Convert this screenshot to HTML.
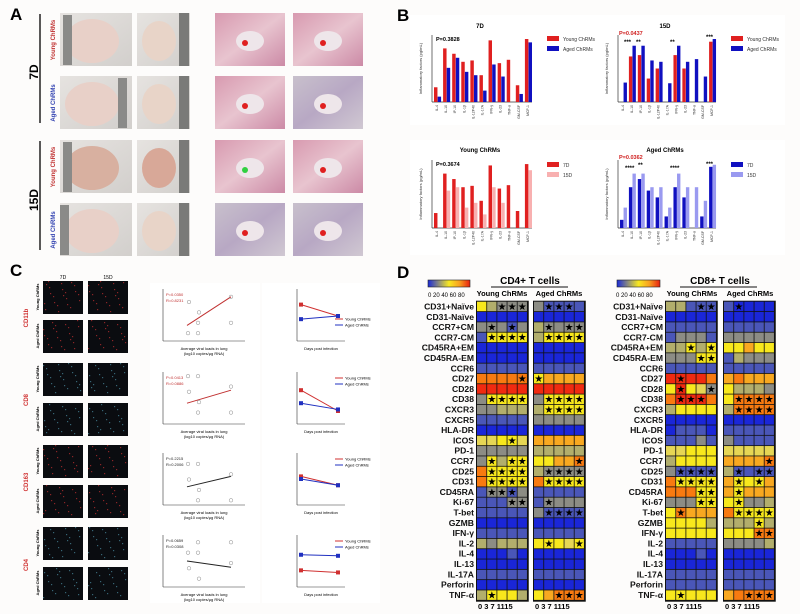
<!DOCTYPE html>
<html><head><meta charset="utf-8">
<style>
html,body{margin:0;padding:0;background:#fdfcfb;}
body{width:800px;height:614px;position:relative;overflow:hidden;font-family:"Liberation Sans",Arial,sans-serif;}
svg{position:absolute;left:0;top:0;}
text{font-family:"Liberation Sans",Arial,sans-serif;}
.lbl{font-weight:bold;font-size:8.6px;fill:#111;text-anchor:end;}
</style></head><body>
<svg id="s" width="800" height="614" viewBox="0 0 800 614" xmlns="http://www.w3.org/2000/svg">
<defs>
<linearGradient id="lung" x1="0" y1="0" x2="1" y2="1"><stop offset="0" stop-color="#e6e3e0"/><stop offset="1" stop-color="#d2cfcc"/></linearGradient>
<linearGradient id="he" x1="0" y1="0" x2="1" y2="1"><stop offset="0" stop-color="#d89ab0"/><stop offset="0.5" stop-color="#e8c4cf"/><stop offset="1" stop-color="#cc8aa6"/></linearGradient>
<linearGradient id="he2" x1="0" y1="0" x2="1" y2="1"><stop offset="0" stop-color="#c8c0cc"/><stop offset="0.5" stop-color="#b8a8c4"/><stop offset="1" stop-color="#d0c8d2"/></linearGradient>
<linearGradient id="cb" x1="0" x2="1"><stop offset="0" stop-color="#1a2ad8"/><stop offset="0.25" stop-color="#8a8a80"/><stop offset="0.5" stop-color="#f8e820"/><stop offset="0.75" stop-color="#f8a020"/><stop offset="1" stop-color="#e82010"/></linearGradient>
</defs>
<text x="10" y="20" font-size="17" font-weight="bold">A</text>
<text x="397" y="21" font-size="17" font-weight="bold">B</text>
<text x="10" y="276" font-size="17" font-weight="bold">C</text>
<text x="397" y="278" font-size="17" font-weight="bold">D</text>

<line x1="40" y1="14" x2="40" y2="123" stroke="#222" stroke-width="1.5"/>
<line x1="40" y1="141" x2="40" y2="250" stroke="#222" stroke-width="1.5"/>
<text transform="translate(38,72) rotate(-90)" font-size="12" font-weight="bold" text-anchor="middle">7D</text>
<text transform="translate(38,200) rotate(-90)" font-size="12" font-weight="bold" text-anchor="middle">15D</text>
<text transform="translate(55,40) rotate(-90)" font-size="6" font-weight="bold" fill="#c03030" text-anchor="middle">Young ChRMs</text>
<text transform="translate(55,103) rotate(-90)" font-size="6" font-weight="bold" fill="#3040b0" text-anchor="middle">Aged ChRMs</text>
<text transform="translate(55,167) rotate(-90)" font-size="6" font-weight="bold" fill="#c03030" text-anchor="middle">Young ChRMs</text>
<text transform="translate(55,230) rotate(-90)" font-size="6" font-weight="bold" fill="#3040b0" text-anchor="middle">Aged ChRMs</text>
<g id="pa"></g>

<rect x="410" y="15" width="375" height="110" fill="#fff"/>
<rect x="410" y="140" width="375" height="115" fill="#fff"/>
<text x="480" y="28" font-size="6" font-weight="bold" text-anchor="middle">7D</text>
<text x="665" y="28" font-size="6" font-weight="bold" text-anchor="middle">15D</text>
<text x="480" y="152" font-size="6" font-weight="bold" text-anchor="middle">Young ChRMs</text>
<text x="665" y="152" font-size="6" font-weight="bold" text-anchor="middle">Aged ChRMs</text>
<text x="436" y="41" font-size="5.5" font-weight="bold">P=0.3828</text>
<text x="619" y="35" font-size="5.5" font-weight="bold" fill="#d02020">P=0.0437</text>
<text x="436" y="166" font-size="5.5" font-weight="bold">P=0.3674</text>
<text x="619" y="159" font-size="5.5" font-weight="bold" fill="#d02020">P=0.0362</text>
<g font-size="6" font-weight="bold">
<text x="624" y="44">***</text><text x="636" y="44">**</text><text x="670" y="44">**</text><text x="706" y="39">***</text>
<text x="625" y="170">****</text><text x="638" y="167">**</text><text x="670" y="170">****</text><text x="706" y="166">***</text>
</g>
<g id="pb"></g>
<g font-size="5" fill="#333">
<rect x="547" y="36" width="12" height="5" fill="#e02020"/><text x="563" y="41">Young ChRMs</text>
<rect x="547" y="46" width="12" height="5" fill="#1010c0"/><text x="563" y="51">Aged ChRMs</text>
<rect x="731" y="36" width="12" height="5" fill="#e02020"/><text x="747" y="41">Young ChRMs</text>
<rect x="731" y="46" width="12" height="5" fill="#1010c0"/><text x="747" y="51">Aged ChRMs</text>
<rect x="547" y="162" width="12" height="5" fill="#e02020"/><text x="563" y="167">7D</text>
<rect x="547" y="172" width="12" height="5" fill="#f8b0b0"/><text x="563" y="177">15D</text>
<rect x="731" y="162" width="12" height="5" fill="#1010c0"/><text x="747" y="167">7D</text>
<rect x="731" y="172" width="12" height="5" fill="#9a9af0"/><text x="747" y="177">15D</text>
</g>

<rect x="150" y="283" width="110" height="320" fill="#fff"/>
<rect x="262" y="283" width="118" height="320" fill="#fff"/>
<text x="63" y="279" font-size="5" text-anchor="middle">7D</text>
<text x="108" y="279" font-size="5" text-anchor="middle">15D</text>
<text transform="translate(28,318) rotate(-90)" font-size="6" font-weight="bold" fill="#d03030" text-anchor="middle">CD11b</text>
<text transform="translate(28,400) rotate(-90)" font-size="6" font-weight="bold" fill="#d03030" text-anchor="middle">CD8</text>
<text transform="translate(28,482) rotate(-90)" font-size="6" font-weight="bold" fill="#d03030" text-anchor="middle">CD163</text>
<text transform="translate(28,565) rotate(-90)" font-size="6" font-weight="bold" fill="#d03030" text-anchor="middle">CD4</text>
<g id="pc"></g>

<rect x="428" y="280" width="42" height="7" fill="url(#cb)" stroke="#222" stroke-width="0.6"/>
<text x="428" y="297" font-size="6">0 20 40 60 80</text>
<rect x="617" y="280" width="43" height="7" fill="url(#cb)" stroke="#222" stroke-width="0.6"/>
<text x="616" y="297" font-size="6">0 20 40 60 80</text>
<text x="530" y="284" font-size="10" font-weight="bold" text-anchor="middle">CD4+ T cells</text>
<line x1="491" y1="287" x2="568" y2="287" stroke="#111" stroke-width="1"/>
<text x="720" y="284" font-size="10" font-weight="bold" text-anchor="middle">CD8+ T cells</text>
<line x1="680" y1="287" x2="757" y2="287" stroke="#111" stroke-width="1"/>
<text x="502" y="296" font-size="7.5" font-weight="bold" text-anchor="middle">Young ChRMs</text>
<text x="559" y="296" font-size="7.5" font-weight="bold" text-anchor="middle">Aged ChRMs</text>
<text x="692" y="296" font-size="7.5" font-weight="bold" text-anchor="middle">Young ChRMs</text>
<text x="750" y="296" font-size="7.5" font-weight="bold" text-anchor="middle">Aged ChRMs</text>
<g>
<text x="474" y="309.5" class="lbl">CD31+Naïve</text><text x="474" y="319.8" class="lbl">CD31-Naïve</text><text x="474" y="330.1" class="lbl">CCR7+CM</text><text x="474" y="340.4" class="lbl">CCR7-CM</text><text x="474" y="350.7" class="lbl">CD45RA+EM</text><text x="474" y="361" class="lbl">CD45RA-EM</text><text x="474" y="371.3" class="lbl">CCR6</text><text x="474" y="381.6" class="lbl">CD27</text><text x="474" y="391.9" class="lbl">CD28</text><text x="474" y="402.2" class="lbl">CD38</text><text x="474" y="412.5" class="lbl">CXCR3</text><text x="474" y="422.8" class="lbl">CXCR5</text><text x="474" y="433.1" class="lbl">HLA-DR</text><text x="474" y="443.4" class="lbl">ICOS</text><text x="474" y="453.7" class="lbl">PD-1</text><text x="474" y="464" class="lbl">CCR7</text><text x="474" y="474.3" class="lbl">CD25</text><text x="474" y="484.6" class="lbl">CD31</text><text x="474" y="494.9" class="lbl">CD45RA</text><text x="474" y="505.2" class="lbl">Ki-67</text><text x="474" y="515.5" class="lbl">T-bet</text><text x="474" y="525.8" class="lbl">GZMB</text><text x="474" y="536.1" class="lbl">IFN-γ</text><text x="474" y="546.4" class="lbl">IL-2</text><text x="474" y="556.7" class="lbl">IL-4</text><text x="474" y="567" class="lbl">IL-13</text><text x="474" y="577.3" class="lbl">IL-17A</text><text x="474" y="587.6" class="lbl">Perforin</text><text x="474" y="597.9" class="lbl">TNF-α</text>
</g>
<g>
<text x="663" y="309.5" class="lbl">CD31+Naïve</text><text x="663" y="319.8" class="lbl">CD31-Naïve</text><text x="663" y="330.1" class="lbl">CCR7+CM</text><text x="663" y="340.4" class="lbl">CCR7-CM</text><text x="663" y="350.7" class="lbl">CD45RA+EM</text><text x="663" y="361" class="lbl">CD45RA-EM</text><text x="663" y="371.3" class="lbl">CCR6</text><text x="663" y="381.6" class="lbl">CD27</text><text x="663" y="391.9" class="lbl">CD28</text><text x="663" y="402.2" class="lbl">CD38</text><text x="663" y="412.5" class="lbl">CXCR3</text><text x="663" y="422.8" class="lbl">CXCR5</text><text x="663" y="433.1" class="lbl">HLA-DR</text><text x="663" y="443.4" class="lbl">ICOS</text><text x="663" y="453.7" class="lbl">PD-1</text><text x="663" y="464" class="lbl">CCR7</text><text x="663" y="474.3" class="lbl">CD25</text><text x="663" y="484.6" class="lbl">CD31</text><text x="663" y="494.9" class="lbl">CD45RA</text><text x="663" y="505.2" class="lbl">Ki-67</text><text x="663" y="515.5" class="lbl">T-bet</text><text x="663" y="525.8" class="lbl">GZMB</text><text x="663" y="536.1" class="lbl">IFN-γ</text><text x="663" y="546.4" class="lbl">IL-2</text><text x="663" y="556.7" class="lbl">IL-4</text><text x="663" y="567" class="lbl">IL-13</text><text x="663" y="577.3" class="lbl">IL-17A</text><text x="663" y="587.6" class="lbl">Perforin</text><text x="663" y="597.9" class="lbl">TNF-α</text>
</g>
<g font-size="7.5" font-weight="bold">
<text x="478" y="609">0  3  7 1115</text><text x="535" y="609">0  3  7 1115</text>
<text x="667" y="609">0  3  7 1115</text><text x="725" y="609">0  3  7 1115</text>
</g>
<g id="pd"></g>
</svg>
<script>
var NS="http://www.w3.org/2000/svg";
function el(p,t,a){var e=document.createElementNS(NS,t);for(var k in a)e.setAttribute(k,a[k]);p.appendChild(e);return e;}
var pa=document.getElementById('pa');
var cols=[[60,72],[137,53],[215,70],[293,70]],rows=[13,76,140,203];
rows.forEach(function(y,ri){cols.forEach(function(c,ci){
 var f=ci<2?'url(#lung)':(ci==2?(ri==3?'url(#he2)':'url(#he)'):(ri%2?'url(#he2)':'url(#he)'));
 el(pa,'rect',{x:c[0],y:y,width:c[1],height:53,fill:f});
 if(ci==0){el(pa,'ellipse',{cx:c[0]+32,cy:y+28,rx:27,ry:22,fill:ri==2?'#d8b0a0':'#e8d0c8'});el(pa,'rect',{x:c[0]+(ri==1?58:(ri==3?0:3)),y:y+2,width:9,height:50,fill:'#8a8a88'});}
 if(ci==1){el(pa,'ellipse',{cx:c[0]+22,cy:y+28,rx:17,ry:20,fill:ri==2?'#d8a898':'#e8d4c8'});el(pa,'rect',{x:c[0]+42,y:y,width:10,height:53,fill:'#7a7a78'});}
 if(ci>=2){el(pa,'ellipse',{cx:c[0]+35,cy:y+28,rx:14,ry:10,fill:'#eee6ea'});el(pa,'circle',{cx:c[0]+30,cy:y+30,r:3,fill:ri==2&&ci==2?'#30d040':'#e02020'});}
});});
var pb=document.getElementById('pb');
function chart(x0,y0,w,h,a,b,ca,cb){
 el(pb,'line',{x1:x0,y1:y0,x2:x0,y2:y0+h,stroke:'#333','stroke-width':0.7});
 el(pb,'line',{x1:x0,y1:y0+h,x2:x0+w,y2:y0+h,stroke:'#333','stroke-width':0.7});
 var bw=w/11;
 for(var i=0;i<11;i++){var bx=x0+2+i*bw;
  if(a[i])el(pb,'rect',{x:bx,y:y0+h-a[i]*h,width:bw*0.38,height:a[i]*h,fill:ca});
  if(b[i])el(pb,'rect',{x:bx+bw*0.4,y:y0+h-b[i]*h,width:bw*0.38,height:b[i]*h,fill:cb});
  var t=el(pb,'text',{'font-size':3.5,fill:'#333',transform:'translate('+(bx+4)+','+(y0+h+3)+') rotate(-90)','text-anchor':'end'});t.textContent=['IL-4','IL-10','IP-10','IL-1\u03b2','IL-12P40','IL-17A','IFN-\u03b3','IL-23','TNF-\u03b1','GM-CSF','MCP-1'][i];
 }
 var t=el(pb,'text',{'font-size':4,fill:'#333',transform:'translate('+(x0-10)+','+(y0+h/2)+') rotate(-90)','text-anchor':'middle'});t.textContent='Inflammatory factors (pg/mL)';
}
var y7=[0.22,0.8,0.72,0.6,0.62,0.4,0.92,0.58,0.63,0.25,0.94],a7=[0.08,0.51,0.66,0.45,0.4,0.17,0.56,0.38,0,0.12,0.89];
chart(432,35,100,67,y7,a7,'#e02020','#1010c0');
chart(618,35,98,67,[0,0.68,0.7,0.35,0.5,0,0.7,0.5,0,0,0.9],[0.29,0.84,0.84,0.62,0.6,0.28,0.84,0.6,0.64,0.38,0.94],'#e02020','#1010c0');
chart(432,160,100,68,y7,[0,0.55,0.6,0.3,0.37,0.2,0.6,0.37,0,0,0.85],'#e02020','#f8b0b0');
chart(618,160,98,68,[0.12,0.6,0.72,0.55,0.45,0.17,0.6,0.45,0,0.17,0.9],[0.3,0.8,0.8,0.6,0.6,0.3,0.8,0.6,0.6,0.4,0.93],'#1010c0','#9a9af0');
var pc=document.getElementById('pc');
var iy=[281,320,363,403,445,485,527,567];
iy.forEach(function(y,i){var g=Math.floor(i/2);var col=(g==1||g==3)?'#4a8aa0':'#c03030';
 [43,88].forEach(function(x){el(pc,'rect',{x:x,y:y,width:40,height:33,fill:'#0a0c10'});
  for(var k=0;k<22;k++){el(pc,'rect',{x:x+((k*17+i*7+x)%38),y:y+((k*11+i*5)%31),width:1.2,height:1.2,fill:col,opacity:0.7});}});
 var t=el(pc,'text',{'font-size':4,'font-weight':'bold',transform:'translate(39,'+(y+16)+') rotate(-90)','text-anchor':'middle'});t.textContent=i%2?'Aged ChRMs':'Young ChRMs';
});
var sy=[289,372,453,535];
var lines=[[0.7,0.15],[0.6,0.35],[0.65,0.45],[0.5,0.62]];
var lc=['#c03030','#c03030','#222','#222'];
var tr=[[[0.3,0.52],[0.58,0.52]],[[0.35,0.75],[0.6,0.72]],[[0.45,0.62],[0.5,0.62]],[[0.68,0.72],[0.38,0.4]]];
sy.forEach(function(y,i){
 var x0=163,w=82,h=52;
 el(pc,'line',{x1:x0,y1:y,x2:x0,y2:y+h,stroke:'#333','stroke-width':0.6});
 el(pc,'line',{x1:x0,y1:y+h,x2:x0+w,y2:y+h,stroke:'#333','stroke-width':0.6});
 el(pc,'line',{x1:x0+24,y1:y+h*lines[i][0],x2:x0+68,y2:y+h*lines[i][1],stroke:lc[i],'stroke-width':1});
 [[25,0.8],[26,0.2],[35,0.6],[35,0.8],[36,0.4],[68,0.1],[68,0.6]].forEach(function(p){el(pc,'circle',{cx:x0+p[0],cy:y+h*((p[1]+i*0.13)%0.9+0.05),r:1.8,fill:'none',stroke:'#888','stroke-width':0.5});});
 var t=el(pc,'text',{x:x0+3,y:y+7,'font-size':4,fill:lc[i]});t.textContent=['P=0.0350','P=0.0413','P=0.2215','P=0.0659'][i];
 t=el(pc,'text',{x:x0+3,y:y+13,'font-size':4,fill:lc[i]});t.textContent=['R=0.8231','R=0.0886','R=0.2006','R=0.0308'][i];
 t=el(pc,'text',{x:x0+41,y:y+h+9,'font-size':4,'text-anchor':'middle'});t.textContent='Average viral loads in lung';
 t=el(pc,'text',{x:x0+41,y:y+h+14,'font-size':4,'text-anchor':'middle'});t.textContent='(log10 copies/\u03bcg RNA)';
 var lx=297,lw=48;
 el(pc,'line',{x1:lx,y1:y,x2:lx,y2:y+h,stroke:'#333','stroke-width':0.6});
 el(pc,'line',{x1:lx,y1:y+h,x2:lx+lw,y2:y+h,stroke:'#333','stroke-width':0.6});
 var r=tr[i];
 el(pc,'line',{x1:lx+4,y1:y+h*r[0][0],x2:lx+41,y2:y+h*r[0][1],stroke:'#d03030','stroke-width':1});
 el(pc,'line',{x1:lx+4,y1:y+h*r[1][0],x2:lx+41,y2:y+h*r[1][1],stroke:'#2030c0','stroke-width':1});
 el(pc,'rect',{x:lx+2,y:y+h*r[0][0]-2,width:4,height:4,fill:'#d03030'});
 el(pc,'rect',{x:lx+2,y:y+h*r[1][0]-2,width:4,height:4,fill:'#2030c0'});
 el(pc,'rect',{x:lx+39,y:y+h*r[0][1]-2,width:4,height:4,fill:'#d03030'});
 el(pc,'rect',{x:lx+39,y:y+h*r[1][1]-2,width:4,height:4,fill:'#2030c0'});
 var ly=i==0?y+30:y+6;
 el(pc,'line',{x1:lx+38,y1:ly,x2:lx+46,y2:ly,stroke:'#d03030'});el(pc,'line',{x1:lx+38,y1:ly+6,x2:lx+46,y2:ly+6,stroke:'#2030c0'});
 t=el(pc,'text',{x:lx+48,y:ly+1.5,'font-size':4});t.textContent='Young ChRMs';
 t=el(pc,'text',{x:lx+48,y:ly+7.5,'font-size':4});t.textContent='Aged ChRMs';
 t=el(pc,'text',{x:lx+24,y:y+h+9,'font-size':4,'text-anchor':'middle'});t.textContent='Days post infection';
});
var C={B:'#1a26d8',b:'#4a56b8',G:'#8c8c84',g:'#b2ae6c',Y:'#f8e81c',y:'#e6d654',O:'#f87a10',R:'#f02a10',o:'#f8a820'};
var d4y=["Y g G*G*G*","B B B B B ","G G*G b*G ","b Y*Y*Y*Y*","B B B B B ","B B B B B ","b b b b b ","O O O O O*","R R R R R ","G Y*Y*Y*Y*","G G g g g ","b b b b b ","B B B B B ","y y Y Y*y ","G G G G G ","G Y*g Y*Y*","O Y*Y*Y*Y*","O Y*Y*Y*Y*","b G*G*b*G ","b b b G*G*","b b b b b ","B B B B B ","b b b b b ","g G g g g ","B B B b B ","B B B B B ","b b b b b ","B B B B B ","g Y*Y Y g "];
var d4a=["G b*b*b*b ","B B B B B ","g G*G G*G*","g Y*Y*Y*Y*","B B B B B ","B B B B B ","b b b b b ","Y*o o o o ","R R R R R ","G Y*Y*Y*Y*","g Y*Y*Y*Y*","G G G G G ","B B B B B ","o o o o o ","g g g g g ","Y Y o o O*","g G*G*G*G*","O Y*Y*Y*Y*","b b b b b ","b G*G G G ","G b*b*b*b*","B B B B B ","b b b b b ","Y Y*Y y Y*","B B B B B ","B B B B B ","b b b b b ","B B B B B ","Y o O*O*O*"];
var d8y=["g g b b*b*","B B B B B ","b b b b b ","b G G G b ","g g Y*g Y*","G G G Y*Y*","b b b b b ","R R*R R O ","Y R*Y y G*","O R*R*R*O ","g Y Y Y Y ","B B B B B ","B b b b B ","b b b G b ","y y Y Y Y ","g Y Y Y Y ","G b*b*b*b*","O Y*Y*Y*Y*","O O O Y*Y*","G G G Y*Y*","Y O*o o o ","Y Y Y Y g ","Y Y Y Y Y ","b b b b b ","B B B b B ","B B B B B ","b b b b b ","b b b b b ","Y Y*Y Y Y "];
var d8a=["b B*B B B ","B B B B B ","b b b b b ","G G G G G ","Y Y o Y Y ","b g G G G ","b b b b b ","o O o o o ","Y g g g G ","Y O*O*O*O*","g O*O*O*O*","B B B B B ","b b b b b ","G b b b b ","y y y y y ","o o o o O*","g b*b b*b*","o Y*Y Y*o ","o Y*o o o ","Y Y*G G g ","O Y*Y*Y*Y*","g g g Y*g ","Y Y Y O*O*","G G G G g ","B B B B B ","B B B B B ","b b b b b ","b b b b b ","o O O*O*O*"];
var pd=document.getElementById('pd');
function hm(x0,data){var y0=301.7,cw=10.15,rh=10.31;
 el(pd,'rect',{x:x0-1,y:y0-1,width:cw*5+2,height:rh*29+2,fill:'#111'});
 data.forEach(function(s,r){for(var c=0;c<5;c++){var ch=s[c*2],st=s[c*2+1]=='*';
  el(pd,'rect',{x:x0+c*cw,y:y0+r*rh,width:cw-0.8,height:rh-0.8,fill:C[ch]});
  if(st){var t=el(pd,'text',{x:x0+c*cw+cw/2-0.4,y:y0+r*rh+rh-2.2,'font-size':10,'text-anchor':'middle',fill:'#000'});t.textContent='\u2605';}
 }});}
hm(477,d4y);hm(534,d4a);hm(666,d8y);hm(724,d8a);
</script>
</body></html>
